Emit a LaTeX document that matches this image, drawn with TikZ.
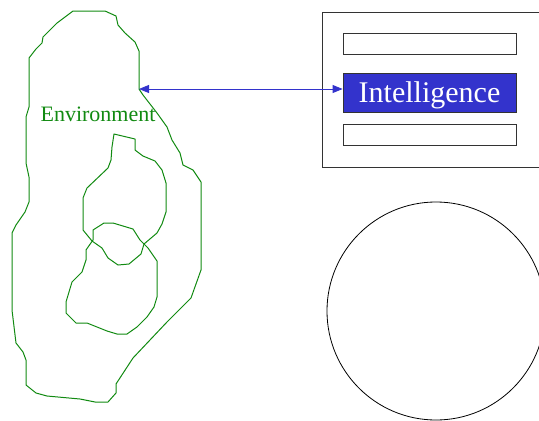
\documentclass[tikz,border=0pt]{standalone}
\usepackage{fontspec}
\setmainfont{Liberation Serif}
\usetikzlibrary{positioning,arrows.meta}
\definecolor{envgreen}{HTML}{118A11}
\definecolor{intelblue}{HTML}{3333CC}

\begin{document}
\begin{tikzpicture}[x=1pt, y=-1pt,
		region/.style={draw=envgreen, line width=1pt, line join=round},
		panel/.style={rectangle, draw=black!80, line width=0.8pt, minimum width=240pt, minimum height=155pt, inner sep=0pt},
		bar/.style={rectangle, draw=black!80, fill=white, line width=0.8pt, minimum width=173pt, minimum height=21pt, inner sep=0pt},
		active/.style={bar, fill=intelblue, minimum height=39pt, text=white, text depth=0pt, font=\fontsize{30}{32}\selectfont},
		world/.style={circle, draw=black, line width=0.8pt, minimum size=218pt, inner sep=0pt},
		link/.style={{Triangle[length=10pt,width=8pt]}-{Triangle[length=10pt,width=8pt]}, draw=intelblue, line width=0.8pt},
		]
		\path[use as bounding box, clip] (0,0) rectangle (539,421);

		%Environment
		\draw[region] (73,11) -- (105,11) -- (116,16) -- (118,25) -- (125,33) -- (135,42) -- (139,51) -- (139,89)
			-- (143,95) -- (157,113) -- (167,127) -- (172,140) -- (180,153) -- (183,165) -- (193,170) -- (201,182)
			-- (201,270) -- (191,298) -- (167,322) -- (133,358) -- (116,384) -- (116,393) -- (108,402) -- (95,402)
			-- (80,399) -- (47,396) -- (36,393) -- (26,385) -- (26,360) -- (23,352) -- (16,343) -- (12,310)
			-- (12,233) -- (16,225) -- (25,212) -- (29,202) -- (29,177) -- (26,163) -- (26,117) -- (29,107)
			-- (29,58) -- (36,49) -- (42,43) -- (43,37) -- (57,23) -- cycle;
		\draw[region] (114,134) -- (135,139) -- (135,150) -- (143,156) -- (155,161) -- (162,170) -- (166,183)
			-- (166,212) -- (162,224) -- (157,233) -- (144,244) -- (141,254) -- (129,264) -- (118,265) -- (108,258)
			-- (102,248) -- (92,241) -- (83,230) -- (83,198) -- (87,188) -- (108,168) -- (111,160) -- (112,147) -- cycle;
		\draw[region] (93,230) -- (104,223) -- (113,223) -- (133,229) -- (140,240) -- (148,248) -- (157,261)
			-- (157,297) -- (154,307) -- (147,317) -- (137,327) -- (127,334) -- (117,334) -- (107,331) -- (87,323)
			-- (76,323) -- (66,313) -- (66,302) -- (72,282) -- (82,272) -- (86,260) -- (86,250) -- (93,240) -- cycle;
		\node[text=envgreen, inner sep=0pt, font=\fontsize{22}{24}\selectfont]	(environment)	at (98,114)	{Environment};
		\coordinate	(env_port)	at (139,89);

		%Agent
		\node[panel]	(agent)		at (442,89.5)	{};
		\node[active]	(intelligence)	at (429.5,92.5)	{Intelligence};
		\node[bar]	(upper_bar)	[above=18pt of intelligence]	{};
		\node[bar]	(lower_bar)	[below=12pt of intelligence]	{};

		%World
		\node[world]	(ball)		at (436,311)	{};

		%Link
		\draw[link]	(env_port)	--	(intelligence.west |- env_port);

	\end{tikzpicture}
\end{document}
